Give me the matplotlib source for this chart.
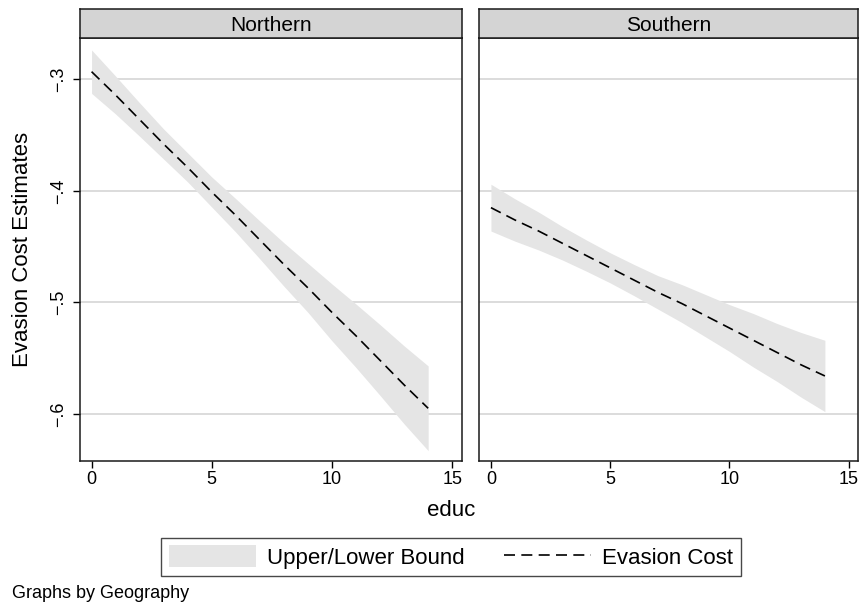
import numpy as np
import matplotlib
matplotlib.use("Agg")
import matplotlib.pyplot as plt
from matplotlib.patches import Patch
from matplotlib.lines import Line2D

plt.rcParams['font.family'] = ['Liberation Sans', 'DejaVu Sans']

#### data
educ = [0, 1, 2, 3, 4, 5, 6, 7, 8, 9, 10, 11, 12, 13, 14]
panels = ["Northern", "Southern"]

north_est = [-0.293, -0.314, -0.336, -0.358, -0.379, -0.401, -0.422, -0.444,
             -0.466, -0.487, -0.509, -0.530, -0.552, -0.574, -0.595]
north_hi = [-0.2735, -0.297, -0.321, -0.3445, -0.366, -0.3875, -0.407, -0.427,
            -0.4465, -0.465, -0.4835, -0.5015, -0.520, -0.539, -0.557]
north_lo = [-0.3125, -0.331, -0.351, -0.3715, -0.392, -0.4145, -0.437, -0.461,
            -0.4855, -0.509, -0.5345, -0.5585, -0.5835, -0.609, -0.633]

south_est = [-0.415, -0.426, -0.436, -0.447, -0.458, -0.469, -0.480, -0.491,
             -0.501, -0.512, -0.523, -0.534, -0.545, -0.556, -0.566]
south_hi = [-0.394, -0.407, -0.419, -0.432, -0.444, -0.4555, -0.466, -0.476,
            -0.484, -0.493, -0.502, -0.510, -0.519, -0.527, -0.534]
south_lo = [-0.436, -0.445, -0.453, -0.462, -0.472, -0.4825, -0.494, -0.506,
            -0.518, -0.531, -0.544, -0.558, -0.571, -0.585, -0.598]

yticks = [-0.3, -0.4, -0.5, -0.6]
ytick_labels = ["\u2212.3", "\u2212.4", "\u2212.5", "\u2212.6"]
xticks = [0, 5, 10, 15]

band_col = '#e5e5e5'
grid_col = '#dcdcdc'
strip_col = '#d4d4d4'
edge_col = '#1a1a1a'
dash = (0, (6.6, 3.8))

fig = plt.figure(figsize=(8.6, 6.05), dpi=100)

boxes = [(0.0925, 0.238, 0.4445, 0.699), (0.557, 0.238, 0.441, 0.699)]
series = [(north_est, north_hi, north_lo), (south_est, south_hi, south_lo)]

for i, (box, (est, hi, lo), name) in enumerate(zip(boxes, series, panels)):
    ax = fig.add_axes(box)
    ax.fill_between(educ, lo, hi, color=band_col, lw=0, zorder=2)
    ax.plot(educ, est, color='black', lw=1.2, ls=dash, zorder=3)
    ax.set_xlim(-0.5, 15.4)
    ax.set_ylim(-0.6423, -0.2629)
    ax.set_yticks(yticks)
    ax.set_xticks(xticks)
    ax.set_xticklabels([str(t) for t in xticks], fontsize=13)
    for y in yticks:
        ax.axhline(y, color=grid_col, lw=1.4, zorder=1)
    for s in ax.spines.values():
        s.set_color(edge_col)
        s.set_linewidth(1.1)
    ax.tick_params(axis='x', length=5, width=1, pad=2)
    if i == 0:
        ax.set_yticklabels(ytick_labels, fontsize=13, rotation=90, va='center')
        ax.tick_params(axis='y', length=5, width=1, pad=4)
        ax.set_ylabel("Evasion Cost Estimates", fontsize=16)
        ax.yaxis.set_label_coords(-0.122, 0.5)
    else:
        ax.tick_params(axis='y', left=False, labelleft=False)

    #### strip header
    hx = fig.add_axes((box[0], box[1] + box[3], box[2], 29 / 605))
    hx.set_facecolor(strip_col)
    hx.set_xticks([])
    hx.set_yticks([])
    for s in hx.spines.values():
        s.set_color(edge_col)
        s.set_linewidth(1.1)
    hx.text(0.5, 0.45, name, ha='center', va='center', fontsize=15,
            transform=hx.transAxes)

fig.text(0.5245, 1 - 510 / 605, "educ", ha='center', va='center', fontsize=16)

handles = [Patch(facecolor=band_col, edgecolor='none'),
           Line2D([0], [0], color='black', lw=1.2, ls=dash)]
fig.legend(handles, ["Upper/Lower Bound", "Evasion Cost"], loc='center',
           bbox_to_anchor=(451 / 860, 1 - 557 / 605), ncol=2, fontsize=16,
           frameon=True, fancybox=False, edgecolor=edge_col,
           handlelength=3.9, handleheight=1.1, columnspacing=1.8,
           handletextpad=0.5, borderpad=0.35, borderaxespad=0)

fig.text(12 / 860, 1 - 594 / 605, "Graphs by Geography", ha='left', va='center',
         fontsize=13)

fig.savefig("out.png", dpi=100, facecolor='white')
